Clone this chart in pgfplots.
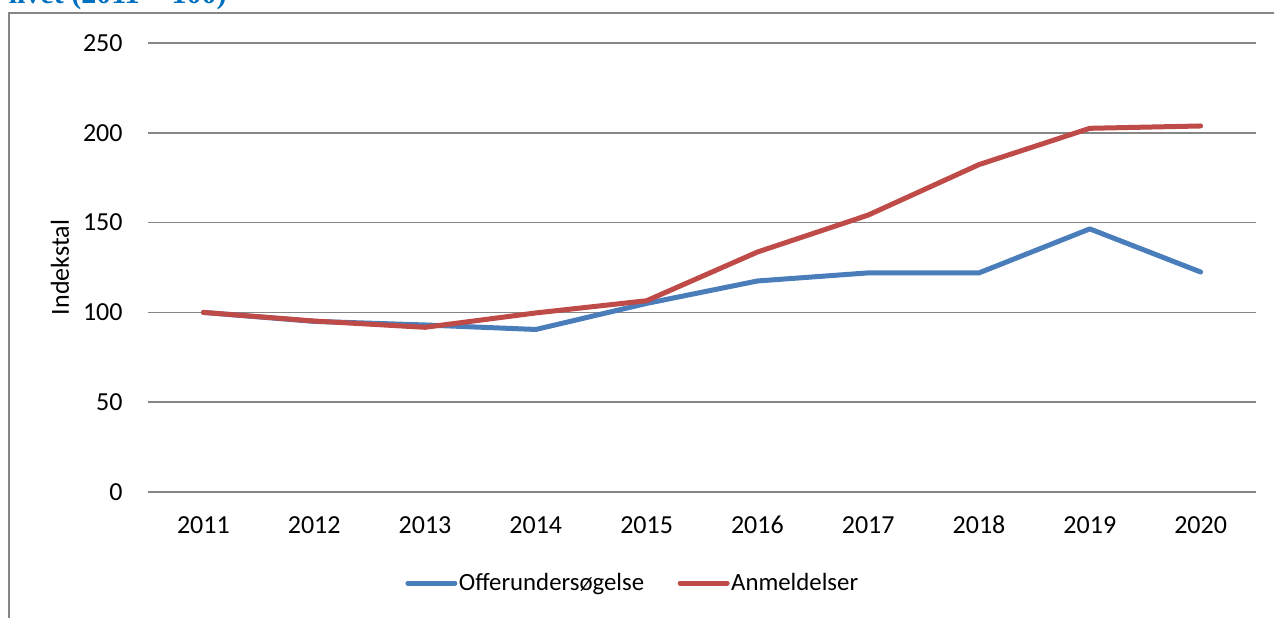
\documentclass[border=0pt]{standalone}
\usepackage{pgfplots}
\pgfplotsset{compat=1.18}
\usepackage{fontspec}
\setmainfont{Carlito}
\newfontfamily\titlefont{Liberation Serif}
\definecolor{serblue}{RGB}{74,126,187}
\definecolor{serred}{RGB}{190,75,72}
\definecolor{gridgray}{RGB}{134,134,134}
\definecolor{titleblue}{RGB}{0,112,192}
\newcommand\cf{\fontsize{13}{15.6}\selectfont}
\newcommand\lf{\fontsize{12.4}{15}\selectfont}
\begin{document}
\begin{tikzpicture}
\useasboundingbox (0,0) rectangle (637pt,308.5pt);
\clip (0,0) rectangle (637pt,308.5pt);
\node[anchor=base west, inner sep=0pt, text=titleblue, font=\titlefont\bfseries\fontsize{15}{18}\selectfont] at (4.2pt,306.5pt) {livet (2011 = 100)};
\draw[gridgray, line width=1pt] (4.7pt,-2pt) -- (4.7pt,302pt) -- (640pt,302pt);
\begin{axis}[
  at={(74pt,62.5pt)}, anchor=south west,
  scale only axis, width=554pt, height=224.5pt,
  xmin=-0.5, xmax=9.5, ymin=0, ymax=250,
  xtick={0,...,9},
  xticklabels={2011,2012,2013,2014,2015,2016,2017,2018,2019,2020},
  ytick={0,50,100,150,200,250},
  axis line style={draw=none},
  major tick length=0pt,
  ymajorgrids, grid style={gridgray, line width=0.75pt},
  /pgf/number format/assume math mode=true,
  tick label style={font=\cf},
  yticklabel style={anchor=east, inner sep=0pt, xshift=-12.5pt},
  xticklabel style={anchor=base, inner sep=0pt, yshift=-20.5pt},
  ylabel={Indekstal},
  ylabel style={font=\cf, at={(axis description cs:-0.0794,0.5)}, anchor=center},
  legend columns=2,
  legend style={at={(axis description cs:0.4373,-0.2027)}, anchor=center, draw=none, fill=none, font=\lf,
    inner sep=0pt, nodes={inner xsep=0.75pt, inner ysep=1pt},
    /tikz/every even column/.append style={column sep=16pt}},
  legend image code/.code={\draw[#1, line cap=round] (1.25pt,0pt) -- (24.75pt,0pt);},
  clip=false,
]
\addplot[serblue, line width=2.5pt, line join=round, line cap=round] coordinates {
 (0,100) (1,95) (2,93) (3,90.5) (4,105) (5,117.5) (6,122) (7,122) (8,146.5) (9,122.5)};
\addlegendentry{Offerundersøgelse}
\addplot[serred, line width=2.5pt, line join=round, line cap=round] coordinates {
 (0,100) (1,95.2) (2,91.7) (3,99.7) (4,106.5) (5,133.6) (6,154.2) (7,182.3) (8,202.5) (9,203.8)};
\addlegendentry{Anmeldelser}
\end{axis}
\end{tikzpicture}
\end{document}
